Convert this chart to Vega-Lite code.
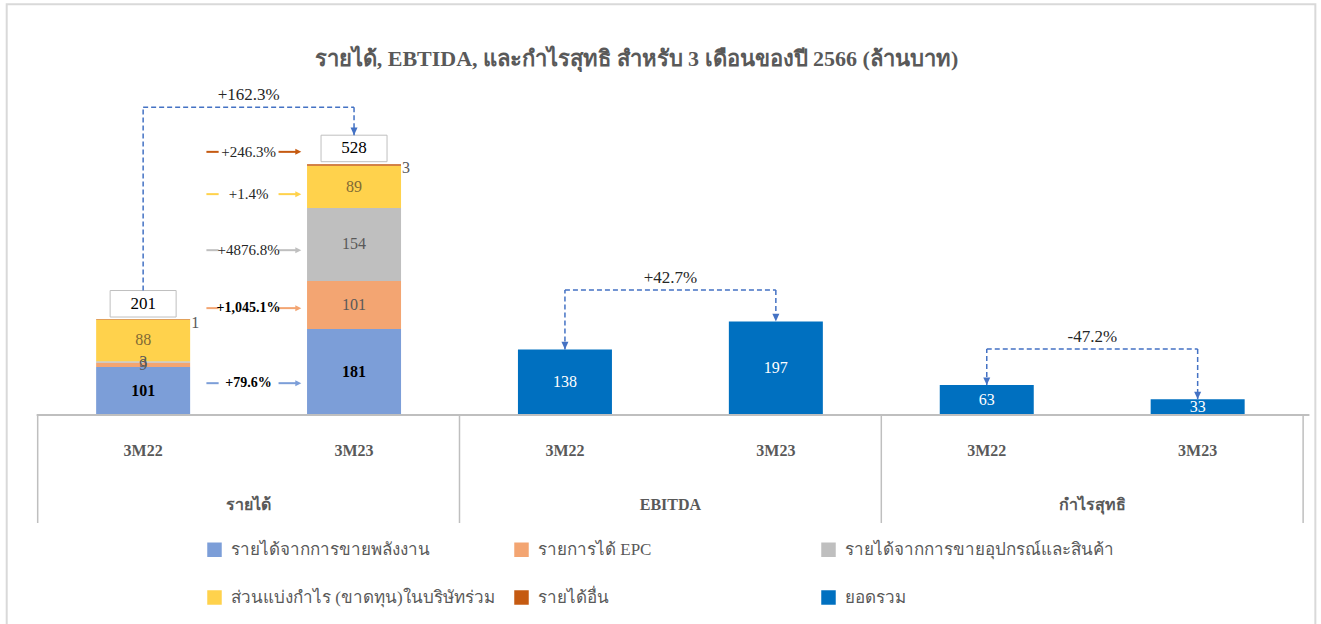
{
  "$schema": "https://vega.github.io/schema/vega-lite/v6.json",
  "width": 1321,
  "height": 624,
  "padding": 0,
  "autosize": {"type": "none"},
  "background": "white",
  "title": {
    "text": "รายได้, EBTIDA, และกำไรสุทธิ สำหรับ 3 เดือนของปี 2566 (ล้านบาท)",
    "anchor": "middle",
    "frame": "group",
    "offset": -71,
    "dx": -24,
    "fontSize": 22,
    "fontWeight": "bold",
    "color": "#595959",
    "font": "Liberation Serif"
  },
  "config": {
    "font": "Liberation Serif",
    "view": {"stroke": null},
    "legend": {
      "orient": "none",
      "legendX": 206,
      "legendY": 541,
      "columns": 3,
      "gridAlign": "all",
      "columnPadding": 13,
      "rowPadding": 30,
      "padding": 0,
      "symbolType": "square",
      "symbolSize": 210,
      "symbolStrokeWidth": 0,
      "labelFont": "Liberation Serif",
      "labelFontSize": 17,
      "labelColor": "#595959",
      "labelOffset": 8,
      "labelLimit": 500,
      "title": null
    }
  },
  "datasets": {
    "rev": [
      {"period": "3M22", "x": 0.5, "cat": "รายได้จากการขายพลังงาน", "k": 1, "v": 101},
      {"period": "3M22", "x": 0.5, "cat": "รายการได้ EPC", "k": 2, "v": 9},
      {"period": "3M22", "x": 0.5, "cat": "รายได้จากการขายอุปกรณ์และสินค้า", "k": 3, "v": 3},
      {"period": "3M22", "x": 0.5, "cat": "ส่วนแบ่งกำไร (ขาดทุน)ในบริษัทร่วม", "k": 4, "v": 88},
      {"period": "3M22", "x": 0.5, "cat": "รายได้อื่น", "k": 5, "v": 1},
      {"period": "3M23", "x": 1.5, "cat": "รายได้จากการขายพลังงาน", "k": 1, "v": 181},
      {"period": "3M23", "x": 1.5, "cat": "รายการได้ EPC", "k": 2, "v": 101},
      {"period": "3M23", "x": 1.5, "cat": "รายได้จากการขายอุปกรณ์และสินค้า", "k": 3, "v": 154},
      {"period": "3M23", "x": 1.5, "cat": "ส่วนแบ่งกำไร (ขาดทุน)ในบริษัทร่วม", "k": 4, "v": 89},
      {"period": "3M23", "x": 1.5, "cat": "รายได้อื่น", "k": 5, "v": 3}
    ],
    "tot": [
      {"group": "รายได้", "period": "3M22", "x": 0.5, "total": 201},
      {"group": "รายได้", "period": "3M23", "x": 1.5, "total": 528},
      {"group": "EBITDA", "period": "3M22", "x": 2.5, "total": 138},
      {"group": "EBITDA", "period": "3M23", "x": 3.5, "total": 197},
      {"group": "กำไรสุทธิ", "period": "3M22", "x": 4.5, "total": 63},
      {"group": "กำไรสุทธิ", "period": "3M23", "x": 5.5, "total": 33}
    ],
    "conn": [
      {"group": "รายได้", "x1": 0.5, "x2": 1.5, "y1": 262, "lvl": 648, "y2": 589, "label": "+162.3%"},
      {"group": "EBITDA", "x1": 2.5, "x2": 3.5, "y1": 138, "lvl": 263, "y2": 197, "label": "+42.7%"},
      {"group": "กำไรสุทธิ", "x1": 4.5, "x2": 5.5, "y1": 63, "lvl": 139, "y2": 33, "label": "-47.2%"}
    ],
    "chg": [
      {"cat": "รายได้จากการขายพลังงาน", "y": 67, "label": "+79.6%"},
      {"cat": "รายการได้ EPC", "y": 225, "label": "+1,045.1%"},
      {"cat": "รายได้จากการขายอุปกรณ์และสินค้า", "y": 347, "label": "+4876.8%"},
      {"cat": "ส่วนแบ่งกำไร (ขาดทุน)ในบริษัทร่วม", "y": 465, "label": "+1.4%"},
      {"cat": "รายได้อื่น", "y": 554, "label": "+246.3%"}
    ],
    "seps": [{"b": 0}, {"b": 2}, {"b": 4}, {"b": 6}],
    "one": [{}]
  },
  "layer": [
    {
      "data": {"name": "one"},
      "mark": {"type": "rect", "filled": false, "stroke": "#d9d9d9", "strokeWidth": 2, "clip": false},
      "encoding": {
        "x": {"datum": -0.1469, "type": "quantitative", "scale": {"domain": [-0.15498, 6.0611], "nice": false, "zero": false}, "axis": null},
        "x2": {"datum": 6.058},
        "y": {"datum": 865, "type": "quantitative", "scale": {"domain": [-440.0, 873.7], "nice": false, "zero": false}, "axis": null},
        "y2": {"datum": -470}
      }
    },
    {
      "data": {"name": "rev"},
      "mark": {"type": "bar", "width": 94},
      "encoding": {
        "x": {"field": "x", "type": "quantitative"},
        "y": {"field": "v", "type": "quantitative", "stack": "zero"},
        "order": {"field": "k", "type": "quantitative", "sort": "ascending"},
        "color": {
          "field": "cat",
          "type": "nominal",
          "scale": {
            "domain": ["รายได้จากการขายพลังงาน", "ส่วนแบ่งกำไร (ขาดทุน)ในบริษัทร่วม", "รายการได้ EPC", "รายได้อื่น", "รายได้จากการขายอุปกรณ์และสินค้า", "ยอดรวม"],
            "range": ["#7C9ED8", "#FFD24C", "#F3A572", "#C55A11", "#BFBFBF", "#0070C0"]
          },
          "legend": {"values": ["รายได้จากการขายพลังงาน", "ส่วนแบ่งกำไร (ขาดทุน)ในบริษัทร่วม", "รายการได้ EPC", "รายได้อื่น", "รายได้จากการขายอุปกรณ์และสินค้า", "ยอดรวม"]}
        }
      }
    },
    {
      "data": {"name": "rev"},
      "mark": {"type": "text", "fontSize": 16, "fontWeight": "bold", "color": "black", "baseline": "middle"},
      "encoding": {
        "x": {"field": "x", "type": "quantitative"},
        "y": {"field": "v", "type": "quantitative", "stack": "zero", "bandPosition": 0.5},
        "detail": {"field": "cat"},
        "order": {"field": "k", "type": "quantitative", "sort": "ascending"},
        "text": {"condition": {"test": "datum.k == 1", "field": "v", "type": "quantitative"}, "value": ""}
      }
    },
    {
      "data": {"name": "rev"},
      "mark": {"type": "text", "fontSize": 16, "baseline": "middle"},
      "encoding": {
        "x": {"field": "x", "type": "quantitative"},
        "y": {"field": "v", "type": "quantitative", "stack": "zero", "bandPosition": 0.5},
        "detail": {"field": "cat"},
        "order": {"field": "k", "type": "quantitative", "sort": "ascending"},
        "color": {"condition": {"test": "datum.k == 4", "value": "#7F6A35"}, "value": "#595959"},
        "text": {"condition": {"test": "datum.k >= 2 && datum.k <= 4", "field": "v", "type": "quantitative"}, "value": ""}
      }
    },
    {
      "data": {"name": "rev"},
      "mark": {"type": "text", "fontSize": 16, "baseline": "middle", "align": "left", "dx": 48, "dy": 4, "color": "#595959"},
      "encoding": {
        "x": {"field": "x", "type": "quantitative"},
        "y": {"field": "v", "type": "quantitative", "stack": "zero", "bandPosition": 1},
        "detail": {"field": "cat"},
        "order": {"field": "k", "type": "quantitative", "sort": "ascending"},
        "text": {"condition": {"test": "datum.k == 5", "field": "v", "type": "quantitative"}, "value": ""}
      }
    },
    {
      "data": {"name": "tot"},
      "transform": [{"filter": "datum.group == 'รายได้'"}],
      "mark": {"type": "point", "shape": "M-1,-0.879H1V-0.076H-1Z", "size": 4356, "filled": true, "fill": "white", "stroke": "#BFBFBF", "strokeWidth": 1, "opacity": 1},
      "encoding": {
        "x": {"field": "x", "type": "quantitative"},
        "y": {"field": "total", "type": "quantitative"}
      }
    },
    {
      "data": {"name": "tot"},
      "transform": [{"filter": "datum.group == 'รายได้'"}],
      "mark": {"type": "text", "fontSize": 17, "color": "black", "baseline": "middle", "dy": -16},
      "encoding": {
        "x": {"field": "x", "type": "quantitative"},
        "y": {"field": "total", "type": "quantitative"},
        "text": {"field": "total", "type": "quantitative"}
      }
    },
    {
      "data": {"name": "tot"},
      "transform": [{"filter": "datum.group != 'รายได้'"}],
      "mark": {"type": "bar", "width": 94},
      "encoding": {
        "x": {"field": "x", "type": "quantitative"},
        "y": {"field": "total", "type": "quantitative"},
        "color": {"datum": "ยอดรวม"}
      }
    },
    {
      "data": {"name": "tot"},
      "transform": [{"filter": "datum.group != 'รายได้'"}],
      "mark": {"type": "text", "fontSize": 16, "color": "white", "baseline": "middle"},
      "encoding": {
        "x": {"field": "x", "type": "quantitative"},
        "y": {"field": "total", "type": "quantitative", "stack": "zero", "bandPosition": 0.5},
        "detail": {"field": "period"},
        "text": {"field": "total", "type": "quantitative"}
      }
    },
    {
      "data": {"name": "conn"},
      "mark": {"type": "rule", "color": "#4472C4", "strokeWidth": 1.5, "strokeDash": [5, 3]},
      "encoding": {
        "x": {"field": "x1", "type": "quantitative"},
        "y": {"field": "y1", "type": "quantitative"},
        "y2": {"field": "lvl"}
      }
    },
    {
      "data": {"name": "conn"},
      "mark": {"type": "rule", "color": "#4472C4", "strokeWidth": 1.5, "strokeDash": [5, 3]},
      "encoding": {
        "x": {"field": "x1", "type": "quantitative"},
        "x2": {"field": "x2"},
        "y": {"field": "lvl", "type": "quantitative"}
      }
    },
    {
      "data": {"name": "conn"},
      "mark": {"type": "rule", "color": "#4472C4", "strokeWidth": 1.5, "strokeDash": [5, 3]},
      "encoding": {
        "x": {"field": "x2", "type": "quantitative"},
        "y": {"field": "lvl", "type": "quantitative"},
        "y2": {"field": "y2"}
      }
    },
    {
      "data": {"name": "conn"},
      "mark": {"type": "point", "shape": "M-1,-2.2L1,-2.2L0,0Z", "size": 49, "filled": true, "color": "#4472C4", "opacity": 1},
      "encoding": {
        "x": {"field": "x2", "type": "quantitative"},
        "y": {"field": "y2", "type": "quantitative"}
      }
    },
    {
      "data": {"name": "conn"},
      "transform": [{"filter": "datum.group != 'รายได้'"}],
      "mark": {"type": "point", "shape": "M-1,-2.2L1,-2.2L0,0Z", "size": 49, "filled": true, "color": "#4472C4", "opacity": 1},
      "encoding": {
        "x": {"field": "x1", "type": "quantitative"},
        "y": {"field": "y1", "type": "quantitative"}
      }
    },
    {
      "data": {"name": "conn"},
      "mark": {"type": "text", "fontSize": 17, "color": "#262626", "dx": 105.5, "dy": -12, "baseline": "middle"},
      "encoding": {
        "x": {"field": "x1", "type": "quantitative"},
        "y": {"field": "lvl", "type": "quantitative"},
        "text": {"field": "label"}
      }
    },
    {
      "data": {"name": "chg"},
      "mark": {"type": "rule", "strokeWidth": 2},
      "encoding": {
        "x": {"datum": 0.8, "type": "quantitative"},
        "x2": {"datum": 0.858},
        "y": {"field": "y", "type": "quantitative"},
        "color": {"field": "cat", "type": "nominal"}
      }
    },
    {
      "data": {"name": "chg"},
      "mark": {"type": "rule", "strokeWidth": 2},
      "encoding": {
        "x": {"datum": 1.142, "type": "quantitative"},
        "x2": {"datum": 1.235},
        "y": {"field": "y", "type": "quantitative"},
        "color": {"field": "cat", "type": "nominal"}
      }
    },
    {
      "data": {"name": "chg"},
      "mark": {"type": "point", "shape": "M-2,-1L0,0L-2,1Z", "size": 36, "filled": true, "opacity": 1},
      "encoding": {
        "x": {"datum": 1.25, "type": "quantitative"},
        "y": {"field": "y", "type": "quantitative"},
        "color": {"field": "cat", "type": "nominal"}
      }
    },
    {
      "data": {"name": "chg"},
      "transform": [{"filter": "datum.cat == 'รายได้จากการขายพลังงาน' || datum.cat == 'รายการได้ EPC'"}],
      "mark": {"type": "text", "fontSize": 14, "fontWeight": "bold", "color": "black", "baseline": "middle"},
      "encoding": {
        "x": {"datum": 1.0, "type": "quantitative"},
        "y": {"field": "y", "type": "quantitative"},
        "text": {"field": "label"}
      }
    },
    {
      "data": {"name": "chg"},
      "transform": [{"filter": "datum.cat != 'รายได้จากการขายพลังงาน' && datum.cat != 'รายการได้ EPC'"}],
      "mark": {"type": "text", "fontSize": 15, "color": "#262626", "baseline": "middle"},
      "encoding": {
        "x": {"datum": 1.0, "type": "quantitative"},
        "y": {"field": "y", "type": "quantitative"},
        "text": {"field": "label"}
      }
    },
    {
      "data": {"name": "one"},
      "mark": {"type": "rule", "color": "#BFBFBF", "strokeWidth": 2},
      "encoding": {
        "x": {"datum": -0.005, "type": "quantitative"},
        "x2": {"datum": 6.03},
        "y": {"datum": 0, "type": "quantitative"}
      }
    },
    {
      "data": {"name": "seps"},
      "mark": {"type": "rule", "color": "#BFBFBF", "strokeWidth": 1.5},
      "encoding": {
        "x": {"field": "b", "type": "quantitative"},
        "y": {"datum": 0, "type": "quantitative"},
        "y2": {"datum": -227.4}
      }
    },
    {
      "data": {"name": "tot"},
      "mark": {"type": "text", "fontSize": 16, "fontWeight": "bold", "color": "#595959", "baseline": "middle"},
      "encoding": {
        "x": {"field": "x", "type": "quantitative"},
        "y": {"datum": -76.5, "type": "quantitative"},
        "text": {"field": "period"}
      }
    },
    {
      "data": {"name": "tot"},
      "mark": {"type": "text", "fontSize": 16, "fontWeight": "bold", "color": "#595959", "baseline": "middle"},
      "encoding": {
        "x": {"aggregate": "mean", "field": "x", "type": "quantitative"},
        "y": {"datum": -189.5, "type": "quantitative"},
        "text": {"field": "group"}
      }
    }
  ]
}
